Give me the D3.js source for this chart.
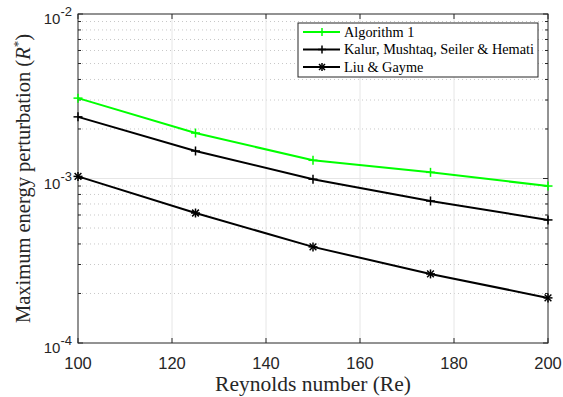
<!DOCTYPE html>
<html>
<head>
<meta charset="utf-8">
<script src="https://cdn.jsdelivr.net/npm/d3@7"></script>
<style>
  body { margin: 0; background: #fff; }
  text { font-family: "Liberation Serif", "DejaVu Serif", serif; }
  .tick-num { font-family: "Liberation Sans", Arial, sans-serif; font-size: 16.5px; fill: #262626; }
</style>
</head>
<body>
<svg id="chart" width="563" height="397"></svg>
<script>
// - - - - - - - - - -
// data
// - - - - - - - - - -
const reynolds = [100, 125, 150, 175, 200];
const algorithm1 = [3.08e-3, 1.89e-3, 1.29e-3, 1.09e-3, 9.0e-4];
const kalur = [2.37e-3, 1.47e-3, 9.9e-4, 7.3e-4, 5.6e-4];
const liuGayme = [1.03e-3, 6.17e-4, 3.84e-4, 2.63e-4, 1.88e-4];

const xTicks = [100, 120, 140, 160, 180, 200];
const yDecades = [-4, -3, -2];

const seriesNames = ['Algorithm 1', 'Kalur, Mushtaq, Seiler & Hemati', 'Liu & Gayme'];
const seriesValues = [algorithm1, kalur, liuGayme];
const seriesColors = ['#00ff00', '#000000', '#000000'];
const seriesMarkers = ['plus', 'plus', 'star'];

// - - - - - - - - - -
const svg = d3.select('#chart');
const pLeft = 78, pRight = 548, pTop = 14, pBottom = 343;

const x = d3.scaleLinear().domain([100, 200]).range([pLeft, pRight]);
const y = d3.scaleLog().domain([1e-4, 1e-2]).range([pBottom, pTop]);

// minor values 2..9 in each decade
let minorVals = [];
yDecades.slice(0, 2).forEach(function (e) {
    for (let m = 2; m <= 9; m += 1) minorVals.push(m * Math.pow(10, e));
});

// grid
const grid = svg.append('g');
grid.selectAll('.minor').data(minorVals).enter().append('line')
    .attr('x1', pLeft).attr('x2', pRight)
    .attr('y1', d => y(d)).attr('y2', d => y(d))
    .attr('stroke', '#c8c8c8').attr('stroke-width', 1)
    .attr('stroke-dasharray', '1,3');
grid.selectAll('.vx').data(xTicks.slice(1, -1)).enter().append('line')
    .attr('x1', d => x(d)).attr('x2', d => x(d))
    .attr('y1', pTop).attr('y2', pBottom)
    .attr('stroke', '#e6e6e6').attr('stroke-width', 1);
grid.append('line')
    .attr('x1', pLeft).attr('x2', pRight)
    .attr('y1', y(1e-3)).attr('y2', y(1e-3))
    .attr('stroke', '#e6e6e6').attr('stroke-width', 1);

// axes box
svg.append('rect')
    .attr('x', pLeft).attr('y', pTop)
    .attr('width', pRight - pLeft).attr('height', pBottom - pTop)
    .attr('fill', 'none').attr('stroke', '#262626').attr('stroke-width', 1);

// ticks, pointing inward on all four sides
const tk = svg.append('g').attr('stroke', '#262626').attr('stroke-width', 1);
xTicks.forEach(function (t) {
    tk.append('line').attr('x1', x(t)).attr('x2', x(t)).attr('y1', pBottom).attr('y2', pBottom - 5);
    tk.append('line').attr('x1', x(t)).attr('x2', x(t)).attr('y1', pTop).attr('y2', pTop + 5);
});
yDecades.map(e => Math.pow(10, e)).concat(minorVals).forEach(function (v) {
    let len = minorVals.indexOf(v) >= 0 ? 3 : 5;
    tk.append('line').attr('x1', pLeft).attr('x2', pLeft + len).attr('y1', y(v)).attr('y2', y(v));
    tk.append('line').attr('x1', pRight).attr('x2', pRight - len).attr('y1', y(v)).attr('y2', y(v));
});

// tick labels
svg.selectAll('.xl').data(xTicks).enter().append('text')
    .attr('class', 'tick-num')
    .attr('x', d => x(d)).attr('y', pBottom + 26)
    .attr('text-anchor', 'middle')
    .text(d => d);

yDecades.forEach(function (e) {
    let t = svg.append('text').attr('class', 'tick-num')
        .attr('x', pLeft - 6).attr('y', y(Math.pow(10, e)) + 10)
        .attr('text-anchor', 'end')
        .attr('font-size', 15).style('font-size', '15px');
    t.append('tspan').text('10');
    t.append('tspan').attr('dy', -8).style('font-size', '13px').text(e);
});

// axis labels
svg.append('text')
    .attr('x', (pLeft + pRight) / 2).attr('y', 391)
    .attr('text-anchor', 'middle')
    .attr('font-size', 21.5).attr('fill', '#262626')
    .text('Reynolds number (Re)');

let yl = svg.append('text')
    .attr('transform', 'translate(30,' + ((pTop + pBottom) / 2) + ') rotate(-90)')
    .attr('text-anchor', 'middle')
    .attr('font-size', 20.5).attr('fill', '#262626');
yl.append('tspan').text('Maximum energy perturbation (');
yl.append('tspan').attr('font-style', 'italic').text('R');
yl.append('tspan').attr('dy', -8).attr('font-size', 13).text('*');
yl.append('tspan').attr('dy', 8).text(')');

// - - - - - - - - - -
// marker drawing
function drawMarker(g, kind, cx, cy, color, r) {
    g.append('line').attr('x1', cx - r).attr('x2', cx + r).attr('y1', cy).attr('y2', cy)
        .attr('stroke', color).attr('stroke-width', 1.5);
    g.append('line').attr('x1', cx).attr('x2', cx).attr('y1', cy - r).attr('y2', cy + r)
        .attr('stroke', color).attr('stroke-width', 1.5);
    if (kind === 'star') {
        let d = r * 0.75;
        g.append('line').attr('x1', cx - d).attr('x2', cx + d).attr('y1', cy - d).attr('y2', cy + d)
            .attr('stroke', color).attr('stroke-width', 1.5);
        g.append('line').attr('x1', cx - d).attr('x2', cx + d).attr('y1', cy + d).attr('y2', cy - d)
            .attr('stroke', color).attr('stroke-width', 1.5);
    }
}

const line = d3.line().x(d => x(d[0])).y(d => y(d[1]));

seriesValues.forEach(function (vals, i) {
    let pts = reynolds.map((r, j) => [r, vals[j]]);
    let g = svg.append('g');
    g.append('path').datum(pts)
        .attr('d', line)
        .attr('fill', 'none')
        .attr('stroke', seriesColors[i])
        .attr('stroke-width', 2);
    pts.forEach(function (p) {
        drawMarker(g, seriesMarkers[i], x(p[0]), y(p[1]), seriesColors[i], 4.5);
    });
});

// - - - - - - - - - -
// legend
const lg = svg.append('g');
lg.append('rect')
    .attr('x', 298).attr('y', 23).attr('width', 240).attr('height', 54)
    .attr('fill', '#fff').attr('stroke', '#262626').attr('stroke-width', 1);
seriesNames.forEach(function (name, i) {
    let ly = 32 + i * 17.5;
    lg.append('line').attr('x1', 303).attr('x2', 340).attr('y1', ly).attr('y2', ly)
        .attr('stroke', seriesColors[i]).attr('stroke-width', 2);
    drawMarker(lg, seriesMarkers[i], 322, ly, seriesColors[i], 4);
    lg.append('text').attr('x', 344).attr('y', ly + 4.5)
        .attr('font-size', 14.3).attr('fill', '#000')
        .text(name);
});
</script>
</body>
</html>
